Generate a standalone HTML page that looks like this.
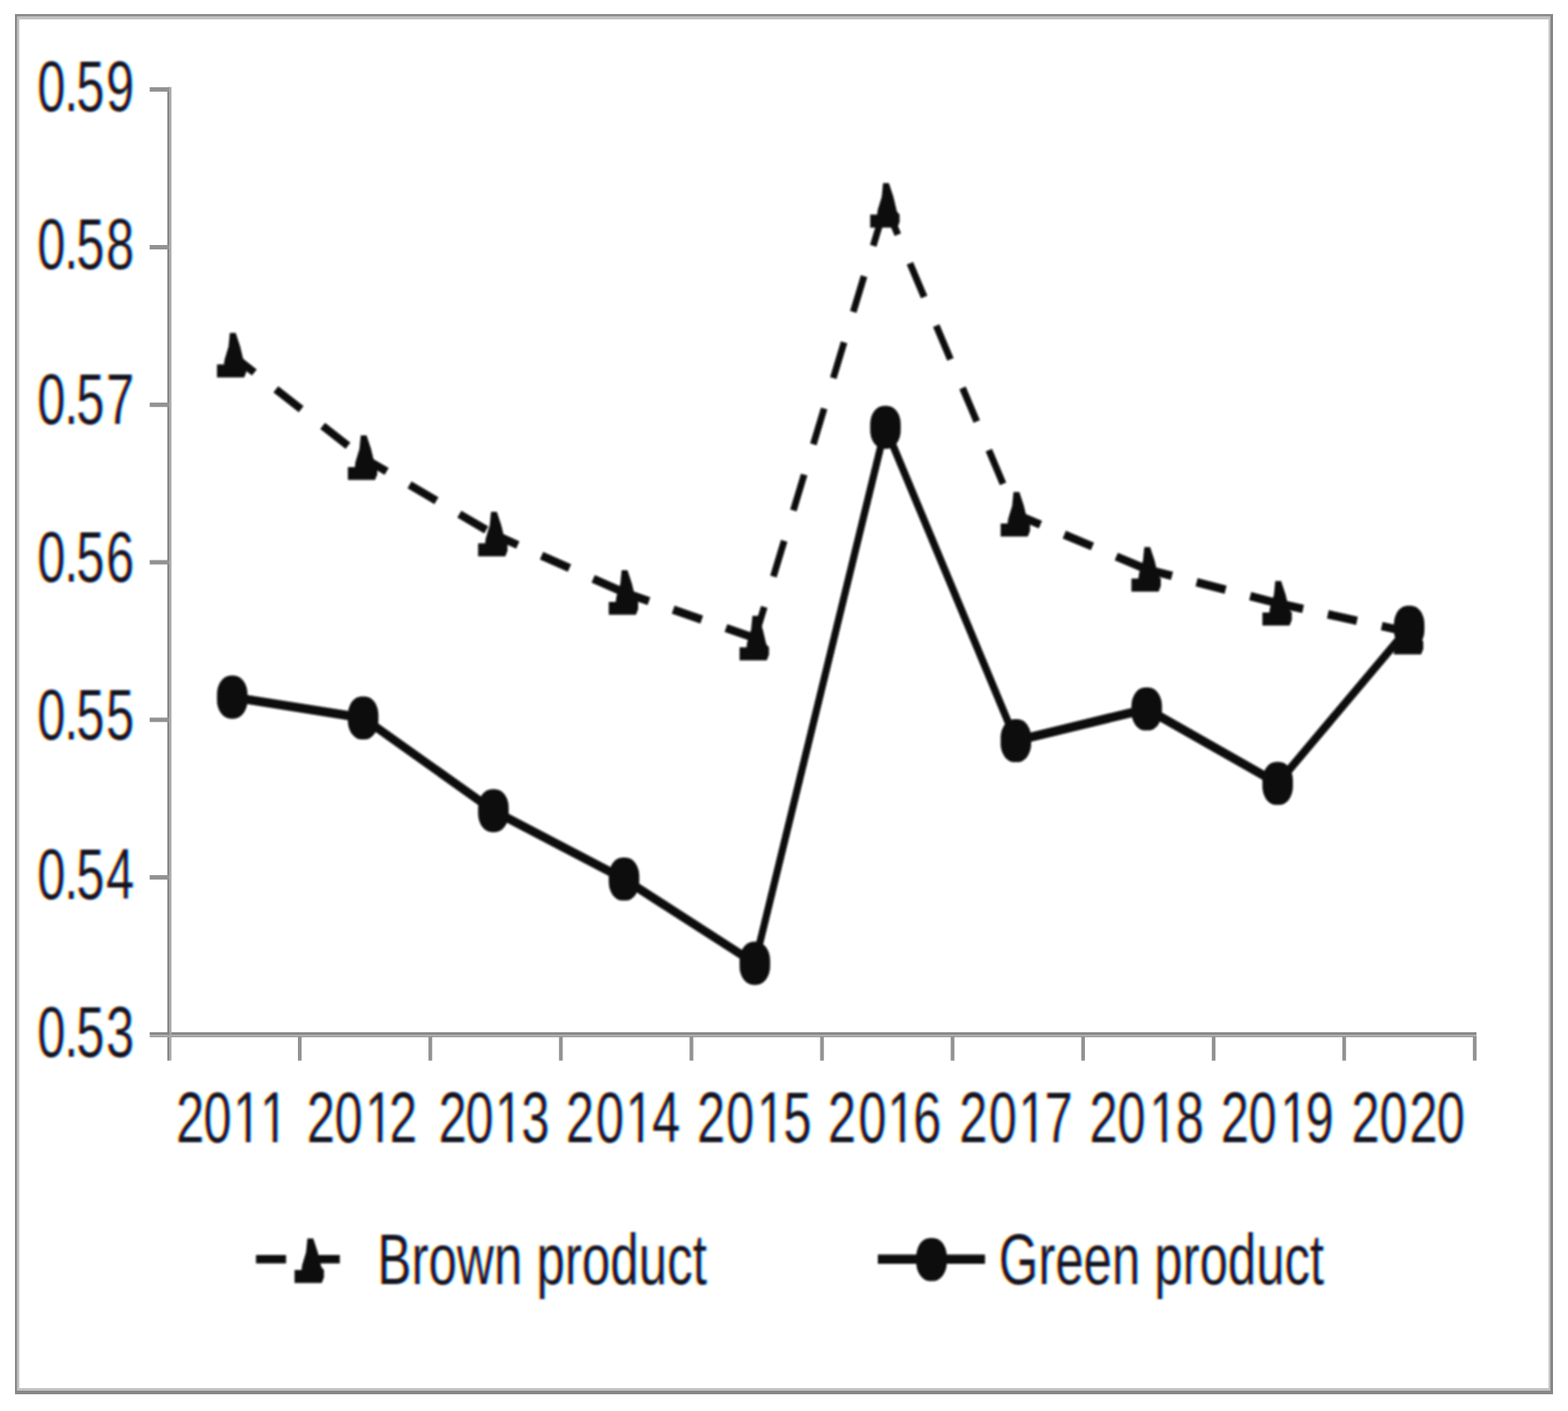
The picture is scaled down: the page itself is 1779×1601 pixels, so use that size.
<!DOCTYPE html>
<html lang="en"><head><meta charset="utf-8">
<style>html,body{margin:0;padding:0;background:#fff}body{width:1779px;height:1601px;overflow:hidden}svg{display:block}text{font-family:"Liberation Sans",sans-serif;fill:#000}.n{font-kerning:none;font-variant-ligatures:none}</style></head><body>
<svg width="1779" height="1601" viewBox="0 0 1779 1601">
<defs><filter id="b" filterUnits="userSpaceOnUse" x="0" y="0" width="1779" height="1601"><feGaussianBlur stdDeviation="1.15"/></filter><filter id="b2" filterUnits="userSpaceOnUse" x="0" y="0" width="1779" height="1601"><feGaussianBlur stdDeviation="0.6"/></filter><filter id="t" filterUnits="userSpaceOnUse" x="0" y="0" width="1779" height="1601" color-interpolation-filters="sRGB"><feGaussianBlur in="SourceAlpha" stdDeviation="0.8" result="s"/><feOffset in="s" dx="-1" dy="0" result="l1"/><feOffset in="s" dx="-2" dy="0" result="l2"/><feComposite in="l1" in2="l2" operator="arithmetic" k1="0" k2="0.7" k3="0.3" k4="0" result="l"/><feOffset in="s" dx="1" dy="0" result="r1"/><feOffset in="s" dx="2" dy="0" result="r2"/><feComposite in="r1" in2="r2" operator="arithmetic" k1="0" k2="0.7" k3="0.3" k4="0" result="r"/><feColorMatrix in="l" type="matrix" values="0 0 0 0 1  0 0 0 0 1  0 0 0 0 0.12  0 0 0 1 0" result="y"/><feColorMatrix in="s" type="matrix" values="0 0 0 0 1  0 0 0 0 0.08  0 0 0 0 1  0 0 0 1 0" result="m"/><feColorMatrix in="r" type="matrix" values="0 0 0 0 0.08  0 0 0 0 1  0 0 0 0 1  0 0 0 1 0" result="c"/><feBlend in="y" in2="m" mode="multiply" result="ym"/><feBlend in="ym" in2="c" mode="multiply"/></filter><clipPath id="k2011"><path clip-rule="evenodd" d="M-20,-90H220V30H-20Z M94.24,-6.6H110.36V1H94.24Z M117.43,-6.6H133.24V1H117.43Z M136.92,-6.6H153.04V1H136.92Z M160.11,-6.6H175.92V1H160.11Z"/></clipPath><clipPath id="k2012"><path clip-rule="evenodd" d="M-20,-90H220V30H-20Z M96.48,-6.6H112.6V1H96.48Z M119.67,-6.6H135.48V1H119.67Z"/></clipPath><clipPath id="k2013"><path clip-rule="evenodd" d="M-20,-90H220V30H-20Z M95.36,-6.6H111.48V1H95.36Z M118.55,-6.6H134.36V1H118.55Z"/></clipPath><clipPath id="k2014"><path clip-rule="evenodd" d="M-20,-90H220V30H-20Z M95.36,-6.6H111.48V1H95.36Z M118.55,-6.6H134.36V1H118.55Z"/></clipPath><clipPath id="k2015"><path clip-rule="evenodd" d="M-20,-90H220V30H-20Z M96.62,-6.6H112.74V1H96.62Z M119.81,-6.6H135.62V1H119.81Z"/></clipPath><clipPath id="k2016"><path clip-rule="evenodd" d="M-20,-90H220V30H-20Z M96.62,-6.6H112.74V1H96.62Z M119.81,-6.6H135.62V1H119.81Z"/></clipPath><clipPath id="k2017"><path clip-rule="evenodd" d="M-20,-90H220V30H-20Z M97.17,-6.6H113.29V1H97.17Z M120.36,-6.6H136.17V1H120.36Z"/></clipPath><clipPath id="k2018"><path clip-rule="evenodd" d="M-20,-90H220V30H-20Z M97.87,-6.6H113.99V1H97.87Z M121.06,-6.6H136.87V1H121.06Z"/></clipPath><clipPath id="k2019"><path clip-rule="evenodd" d="M-20,-90H220V30H-20Z M98.43,-6.6H114.55V1H98.43Z M121.62,-6.6H137.43V1H121.62Z"/></clipPath></defs>
<rect width="1779" height="1601" fill="#fff"/>
<path fill="#878787" fill-rule="evenodd" d="M17,16H1762V1582H17Z M19.7,18.8V1578H1758.9V18.8Z"/>
<path fill="#c3c3c3" fill-rule="evenodd" d="M19.7,18.8H1758.9V1578H19.7Z M21.9,21.9V1575.1H1756.9V21.9Z"/>
<g filter="url(#b2)">
<path fill="#858585" d="M189.8,98.8H192.2V1203.6H189.8Z M169.8,1171.2H1675.2V1174.2H169.8Z"/>
<path fill="#a6a6a6" d="M192.2,98.8H194.5V1203.6H192.2Z M169.8,1174.2H1675.2V1177H169.8Z"/>
<path fill="none" stroke="#929292" stroke-width="5" d="M169.8,101.6H192 M169.8,280.4H192 M169.8,459.2H192 M169.8,638H192 M169.8,816.8H192 M169.8,995.6H192"/>
<path fill="none" stroke="#929292" stroke-width="4.2" d="M340.12,1176V1203.6 M488.24,1176V1203.6 M636.36,1176V1203.6 M784.48,1176V1203.6 M932.6,1176V1203.6 M1080.72,1176V1203.6 M1228.84,1176V1203.6 M1376.96,1176V1203.6 M1525.08,1176V1203.6 M1673.2,1176V1203.6"/>
</g>
<g filter="url(#t)" font-size="80">
<text class="n" dx="0 -1.96 -3.01 2.87" transform="translate(42.2,126.3) scale(0.716,1.02)">0.59</text>
<text class="n" dx="0 -1.96 -3.01 2.87" transform="translate(42.2,305.1) scale(0.716,1.02)">0.58</text>
<text class="n" dx="0 -1.96 -3.01 2.87" transform="translate(42.2,481.1) scale(0.716,1.02)">0.57</text>
<text class="n" dx="0 -1.96 -3.01 2.87" transform="translate(42.2,659.9) scale(0.716,1.02)">0.56</text>
<text class="n" dx="0 -1.96 -3.01 2.87" transform="translate(42.2,838.7) scale(0.716,1.02)">0.55</text>
<text class="n" dx="0 -1.96 -3.01 2.87" transform="translate(42.2,1020.3) scale(0.716,1.02)">0.54</text>
<text class="n" dx="0 -1.96 -3.01 2.87" transform="translate(42.2,1199.1) scale(0.716,1.02)">0.53</text>
<text class="n" clip-path="url(#k2011)" dx="0 -1.26 2.51 -1.82" transform="translate(199.8,1295.8) scale(0.716,1.02)">2011</text>
<text class="n" clip-path="url(#k2012)" dx="0 -0.56 4.05 -6.7" transform="translate(347.95,1295.8) scale(0.716,1.02)">2012</text>
<text class="n" clip-path="url(#k2013)" dx="1.82 -1.82 2.37 -2.51" transform="translate(496.1,1295.8) scale(0.716,1.02)">2013</text>
<text class="n" clip-path="url(#k2014)" dx="-3.07 3.07 2.37 -2.51" transform="translate(644.25,1295.8) scale(0.716,1.02)">2014</text>
<text class="n" clip-path="url(#k2015)" dx="-2.37 1.82 4.19 -2.51" transform="translate(792.4,1295.8) scale(0.716,1.02)">2015</text>
<text class="n" clip-path="url(#k2016)" dx="-1.82 3.63 1.82 -3.77" transform="translate(940.55,1295.8) scale(0.716,1.02)">2016</text>
<text class="n" clip-path="url(#k2017)" dx="-0.56 2.37 2.37 -3.07" transform="translate(1088.7,1295.8) scale(0.716,1.02)">2017</text>
<text class="n" clip-path="url(#k2018)" dx="-1.26 0 6.15 -2.65" transform="translate(1236.85,1295.8) scale(0.716,1.02)">2018</text>
<text class="n" clip-path="url(#k2019)" dx="0 -0.56 6.01 -4.33" transform="translate(1385,1295.8) scale(0.716,1.02)">2019</text>
<text class="n" dx="0 0 3.07 -1.4" transform="translate(1533.15,1295.8) scale(0.716,1.02)">2020</text>
<text transform="translate(428,1456.8) scale(0.725,1.03)">Brown product</text>
<text transform="translate(1133,1456.8) scale(0.722,1.03)">Green product</text>
</g>
<g filter="url(#b)" stroke="#0a0a0a" fill="#0a0a0a">
<g fill="none">
<line x1="263.5" y1="403" x2="412" y2="519.3" stroke-width="8.84" stroke-dasharray="36.45 31.01" stroke-dashoffset="4.62"/>
<line x1="412" y1="519.3" x2="559.8" y2="606" stroke-width="9.1" stroke-dasharray="35.4 30.12" stroke-dashoffset="4.49"/>
<line x1="559.8" y1="606" x2="708" y2="672.3" stroke-width="9.29" stroke-dasharray="34.7 29.52" stroke-dashoffset="4.4"/>
<line x1="708" y1="672.3" x2="856.4" y2="724" stroke-width="9.41" stroke-dasharray="34.27 29.15" stroke-dashoffset="4.35"/>
<line x1="856.4" y1="724" x2="1004.6" y2="233" stroke-width="7.61" stroke-dasharray="42.35 36.03" stroke-dashoffset="5.37"/>
<line x1="1004.6" y1="233" x2="1152.6" y2="583.5" stroke-width="7.78" stroke-dasharray="41.44 35.26" stroke-dashoffset="5.26"/>
<line x1="1152.6" y1="583.5" x2="1301" y2="646" stroke-width="9.32" stroke-dasharray="34.58 29.42" stroke-dashoffset="4.39"/>
<line x1="1301" y1="646" x2="1449.6" y2="684.5" stroke-width="9.5" stroke-dasharray="33.94 28.87" stroke-dashoffset="4.31"/>
<line x1="1449.6" y1="684.5" x2="1598.8" y2="717.3" stroke-width="9.53" stroke-dasharray="33.82 28.77" stroke-dashoffset="4.29"/>
<line x1="263.5" y1="791" x2="412" y2="814.6" stroke-width="10.35"/>
<line x1="412" y1="814.6" x2="559.8" y2="919.8" stroke-width="9.66"/>
<line x1="559.8" y1="919.8" x2="708" y2="997.4" stroke-width="9.93"/>
<line x1="708" y1="997.4" x2="856.4" y2="1093" stroke-width="9.76"/>
<line x1="856.4" y1="1093" x2="1004.6" y2="484.8" stroke-width="8.15"/>
<line x1="1004.6" y1="484.8" x2="1152.6" y2="840.4" stroke-width="8.4"/>
<line x1="1152.6" y1="840.4" x2="1301" y2="804.4" stroke-width="10.28"/>
<line x1="1301" y1="804.4" x2="1449.6" y2="888.9" stroke-width="9.87"/>
<line x1="1449.6" y1="888.9" x2="1598.8" y2="711.6" stroke-width="9.07"/>
<path stroke-width="9.62" d="M290.5,1428.7H324.5 M353,1428.7H385.5"/>
<path stroke-width="10.4" d="M996,1428.7H1117.5"/>
</g>
<path stroke="none" d="M260.8,377.7 L267.4,377.7 L272.5,393.3 L276.5,410 L279.5,413.6 L279.5,422 L277,428.2 L246.2,428.2 L246.2,413.6 L254.1,413.6 L254.8,408 L259.3,393.3Z M409.3,494 L415.9,494 L421,509.6 L425,526.3 L428,529.9 L428,538.3 L425.5,544.5 L394.7,544.5 L394.7,529.9 L402.6,529.9 L403.3,524.3 L407.8,509.6Z M557.1,580.7 L563.7,580.7 L568.8,596.3 L572.8,613 L575.8,616.6 L575.8,625 L573.3,631.2 L542.5,631.2 L542.5,616.6 L550.4,616.6 L551.1,611 L555.6,596.3Z M705.3,647 L711.9,647 L717,662.6 L721,679.3 L724,682.9 L724,691.3 L721.5,697.5 L690.7,697.5 L690.7,682.9 L698.6,682.9 L699.3,677.3 L703.8,662.6Z M853.7,698.7 L860.3,698.7 L865.4,714.3 L869.4,731 L872.4,734.6 L872.4,743 L869.9,749.2 L839.1,749.2 L839.1,734.6 L847,734.6 L847.7,729 L852.2,714.3Z M1001.9,207.7 L1008.5,207.7 L1013.6,223.3 L1017.6,240 L1020.6,243.6 L1020.6,252 L1018.1,258.2 L987.3,258.2 L987.3,243.6 L995.2,243.6 L995.9,238 L1000.4,223.3Z M1149.9,558.2 L1156.5,558.2 L1161.6,573.8 L1165.6,590.5 L1168.6,594.1 L1168.6,602.5 L1166.1,608.7 L1135.3,608.7 L1135.3,594.1 L1143.2,594.1 L1143.9,588.5 L1148.4,573.8Z M1298.3,620.7 L1304.9,620.7 L1310,636.3 L1314,653 L1317,656.6 L1317,665 L1314.5,671.2 L1283.7,671.2 L1283.7,656.6 L1291.6,656.6 L1292.3,651 L1296.8,636.3Z M1446.9,659.2 L1453.5,659.2 L1458.6,674.8 L1462.6,691.5 L1465.6,695.1 L1465.6,703.5 L1463.1,709.7 L1432.3,709.7 L1432.3,695.1 L1440.2,695.1 L1440.9,689.5 L1445.4,674.8Z M1596.1,692 L1602.7,692 L1607.8,707.6 L1611.8,724.3 L1614.8,727.9 L1614.8,736.3 L1612.3,742.5 L1581.5,742.5 L1581.5,727.9 L1589.4,727.9 L1590.1,722.3 L1594.6,707.6Z M348.8,1405.2 L355.4,1405.2 L360.5,1420.8 L364.5,1437.5 L367.5,1441.1 L367.5,1449.5 L365,1455.7 L334.2,1455.7 L334.2,1441.1 L342.1,1441.1 L342.8,1435.5 L347.3,1420.8Z"/>
<rect stroke="none" x="246.2" y="766.6" width="34.6" height="48.8" rx="15.5" ry="21"/>
<rect stroke="none" x="394.7" y="790.2" width="34.6" height="48.8" rx="15.5" ry="21"/>
<rect stroke="none" x="542.5" y="895.4" width="34.6" height="48.8" rx="15.5" ry="21"/>
<rect stroke="none" x="690.7" y="973" width="34.6" height="48.8" rx="15.5" ry="21"/>
<rect stroke="none" x="839.1" y="1068.6" width="34.6" height="48.8" rx="15.5" ry="21"/>
<rect stroke="none" x="987.3" y="460.4" width="34.6" height="48.8" rx="15.5" ry="21"/>
<rect stroke="none" x="1135.3" y="816" width="34.6" height="48.8" rx="15.5" ry="21"/>
<rect stroke="none" x="1283.7" y="780" width="34.6" height="48.8" rx="15.5" ry="21"/>
<rect stroke="none" x="1432.3" y="864.5" width="34.6" height="48.8" rx="15.5" ry="21"/>
<rect stroke="none" x="1581.5" y="687.2" width="34.6" height="48.8" rx="15.5" ry="21"/>
<rect stroke="none" x="1039.6" y="1404.7" width="34.6" height="48.8" rx="15.5" ry="21"/>
</g>
</svg></body></html>
